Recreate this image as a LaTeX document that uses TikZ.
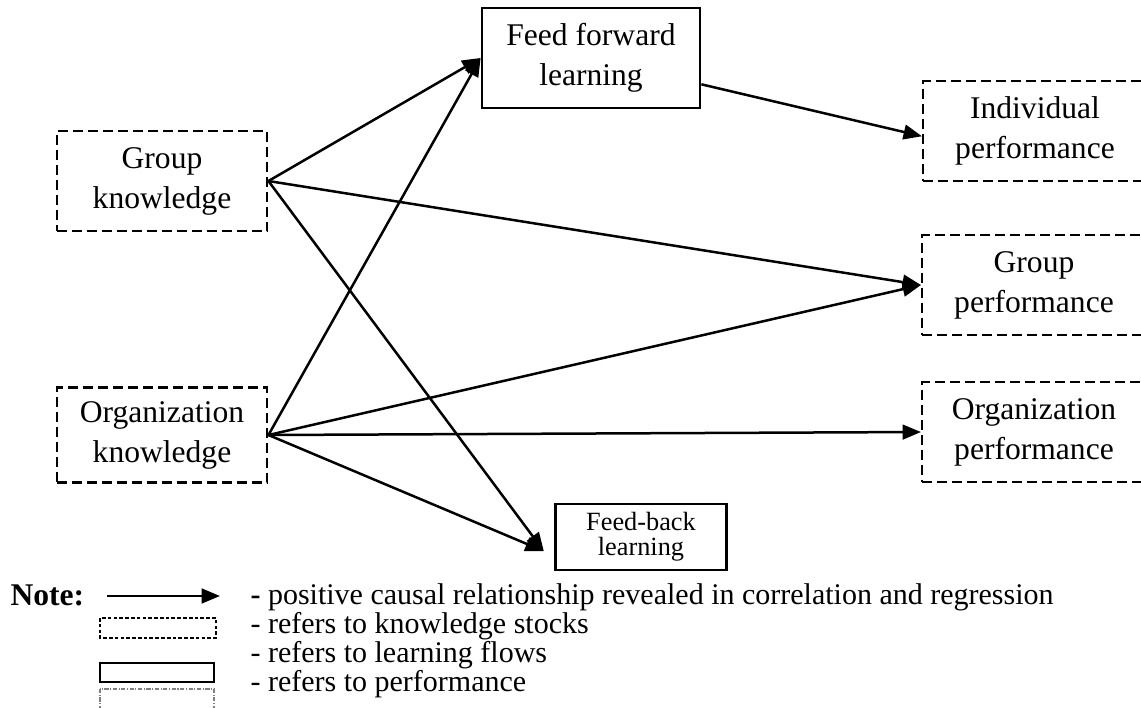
\documentclass[tikz,border=0pt]{standalone}
\usepackage{fontspec}
\setmainfont{Liberation Serif}
\usetikzlibrary{arrows.meta, calc}

\begin{document}
\begin{tikzpicture}[x=0.38pt,y=-0.38pt,
		box/.style={align=center, inner sep=0pt, font=\fontsize{12}{15.2}\selectfont},
		stock/.style={box, draw, line width=0.9pt, dash pattern=on 3.8pt off 1.9pt},
		perf/.style={stock, minimum width=85pt, minimum height=38pt},
		flow/.style={box, draw, line width=0.9pt},
		causal/.style={-{Triangle[length=7pt,width=5.6pt]}, line width=0.95pt}]
		\useasboundingbox (0,0) rectangle (1141,708);
		\node[stock, minimum width=80pt, minimum height=38pt] (gk) at (162,181) {Group\\knowledge};
		\node[stock, minimum width=80pt, minimum height=36pt] (ok) at (162,435) {Organization\\knowledge};
		\node[flow, minimum width=83pt, minimum height=38pt] (ff) at (591,58) {Feed forward\\learning};
		\node[flow, minimum width=65pt, minimum height=25pt, font=\fontsize{10}{9.6}\selectfont] (fb) at (641,537) {Feed-back\\learning};
		\node[perf] (ip) at (1035,131) {Individual\\performance};
		\node[perf] (gp) at (1034,285) {Group\\performance};
		\node[perf] (op) at (1034,432) {Organization\\performance};
		\coordinate (fbin) at ($(fb.south west)+(-4pt,7.6pt)$);
		\coordinate (ffout) at ($(ff.east)+(0,-10pt)$);
		\draw[causal] (gk.east) -- (ff.west);
		\draw[causal] (gk.east) -- (gp.west);
		\draw[causal] (gk.east) -- (fbin);
		\draw[causal] (ok.east) -- (ff.west);
		\draw[causal] (ok.east) -- (gp.west);
		\draw[causal] (ok.east) -- (op.west);
		\draw[causal] (ok.east) -- (fbin);
		\draw[causal] (ffout) -- ($(ip.west)+(0,-2pt)$);
		% key
		\node[anchor=base west, inner sep=0pt, font=\fontsize{12}{14}\selectfont\bfseries] (note) at (10,605) {Note:};
		\coordinate (keya) at (107,596);
		\coordinate (keyb) at (220,596);
		\draw[causal] (keya) -- (keyb);
		\draw[line width=0.5pt, dash pattern=on 1.4pt off 0.8pt] (100,618) rectangle (216,638);
		\draw[line width=0.8pt] (100,663) rectangle (214,682);
		\draw[line width=0.4pt, gray, dash pattern=on 1.6pt off 0.6pt on 0.4pt off 0.6pt] (100,689) rectangle (214,714);
		\foreach \y/\txt/\nm in {604/{\textbf{-} positive causal relationship revealed in correlation and regression}/ka,
			633/{- refers to knowledge stocks}/kb, 662/{- refers to learning flows}/kc, 691/{- refers to performance}/kd}
			\node[anchor=base west, inner sep=0pt, font=\fontsize{11.4}{14}\selectfont] (\nm) at (250,\y) {\txt};
	\end{tikzpicture}
\end{document}
